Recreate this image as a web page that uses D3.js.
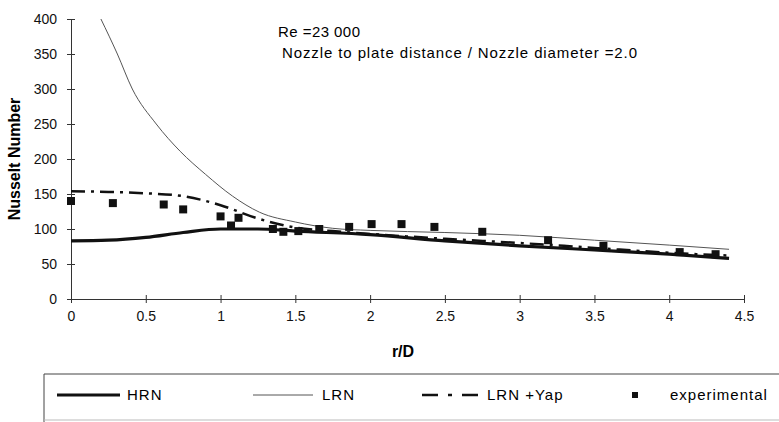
<!DOCTYPE html>
<html>
<head>
<meta charset="utf-8">
<script src="https://cdn.jsdelivr.net/npm/d3@7"></script>
<style>
  body { margin: 0; background: #fff; }
  svg { display: block; font-family: "Liberation Sans", Arial, sans-serif; }
  .tick text { font-size: 14px; fill: #111; }
</style>
</head>
<body>
<div id="chart"></div>
<script>
// values
const hrnX = [0, 0.25, 0.5, 0.75, 1.0, 1.25, 1.5, 2.0, 2.5, 3.0, 3.5, 4.0, 4.4];
const hrnY = [83, 84, 88, 95, 100, 100, 97, 92, 83, 76, 70, 64, 58];

const lrnX = [0.2, 0.31, 0.41, 0.57, 0.73, 0.9, 1.08, 1.26, 1.5, 1.75, 2.0, 2.5, 3.0, 3.5, 4.0, 4.4];
const lrnY = [400, 350, 300, 250, 211, 178, 147, 124, 110, 101, 98, 95, 91, 84, 77, 71];

const yapX = [0, 0.25, 0.5, 0.75, 1.0, 1.25, 1.5, 1.75, 2.0, 2.5, 3.0, 3.5, 4.0, 4.4];
const yapY = [154, 153, 151, 147, 134, 115, 102, 97, 93, 86, 80, 73, 66, 62];

const expX = [0, 0.28, 0.62, 0.75, 1.0, 1.07, 1.12, 1.35, 1.42, 1.52, 1.66, 1.86, 2.01, 2.21, 2.43, 2.75, 3.19, 3.56, 4.07, 4.31];
const expY = [140, 137, 135, 128, 118, 105, 116, 100, 96, 97, 100, 103, 107, 107, 103, 96, 84, 76, 67, 64];

const xTicks = [0, 0.5, 1, 1.5, 2, 2.5, 3, 3.5, 4, 4.5];
const yTicks = [0, 50, 100, 150, 200, 250, 300, 350, 400];

const legendLabels = ['HRN', 'LRN', 'LRN +Yap', 'experimental'];
const notes = ['Re =23 000', 'Nozzle to plate distance / Nozzle diameter =2.0'];

const W = 779, H = 422;
const margin = {left: 71, top: 19, right: 35, bottom: 123};

const svg = d3.select('#chart').append('svg')
    .attr('width', W)
    .attr('height', H);

const x = d3.scaleLinear().domain([0, 4.5]).range([margin.left, W - margin.right]);
const y = d3.scaleLinear().domain([0, 400]).range([H - margin.bottom, margin.top]);

svg.append('defs').append('clipPath').attr('id', 'plot')
    .append('rect')
    .attr('x', margin.left).attr('y', margin.top)
    .attr('width', x(4.5) - x(0)).attr('height', y(0) - y(400));

// axes with ticks crossing the line
const xAxis = svg.append('g')
    .attr('transform', `translate(0,${y(0)})`)
    .call(d3.axisBottom(x).tickValues(xTicks).tickSize(4).tickPadding(8).tickFormat(d3.format('')));
xAxis.selectAll('.tick line').attr('y1', -4);

const yAxis = svg.append('g')
    .attr('transform', `translate(${x(0)},0)`)
    .call(d3.axisLeft(y).tickValues(yTicks).tickSize(4).tickPadding(10));
yAxis.selectAll('.tick line').attr('x1', 4);

svg.selectAll('.domain').attr('stroke', '#333');
svg.selectAll('.tick line').attr('stroke', '#333');

svg.append('text')
    .attr('transform', `translate(20,${(y(0) + y(400)) / 2}) rotate(-90)`)
    .attr('text-anchor', 'middle')
    .attr('font-size', 16)
    .attr('font-weight', 'bold')
    .text('Nusselt Number');

svg.append('text')
    .attr('x', 403).attr('y', 357)
    .attr('text-anchor', 'middle')
    .attr('font-size', 16)
    .attr('font-weight', 'bold')
    .text('r/D');

// annotation
svg.append('text').attr('x', 278).attr('y', 37).attr('font-size', 15)
    .attr('textLength', 82).text(notes[0]);
svg.append('text').attr('x', 282).attr('y', 58).attr('font-size', 15)
    .attr('textLength', 355).text(notes[1]);

// series
const line = d3.line()
    .x(d => x(d[0]))
    .y(d => y(d[1]))
    .curve(d3.curveMonotoneX);

const plot = svg.append('g').attr('clip-path', 'url(#plot)');

plot.append('path')
    .datum(d3.zip(lrnX, lrnY))
    .attr('d', line)
    .attr('fill', 'none')
    .attr('stroke', '#555')
    .attr('stroke-width', 1);

plot.append('path')
    .datum(d3.zip(yapX, yapY))
    .attr('d', line)
    .attr('fill', 'none')
    .attr('stroke', '#111')
    .attr('stroke-width', 2.5)
    .attr('stroke-dasharray', '14,6,3,6');

plot.append('path')
    .datum(d3.zip(hrnX, hrnY))
    .attr('d', line)
    .attr('fill', 'none')
    .attr('stroke', '#111')
    .attr('stroke-width', 3.2);

svg.append('g')
    .selectAll('rect')
    .data(d3.zip(expX, expY))
    .enter().append('rect')
    .attr('x', d => x(d[0]) - 4)
    .attr('y', d => y(d[1]) - 4)
    .attr('width', 8)
    .attr('height', 8)
    .attr('fill', '#111');

// legend
const lg = svg.append('g');
lg.append('path')
    .attr('d', `M44,${H + 2} V374 H${W + 2}`)
    .attr('fill', 'none')
    .attr('stroke', '#444')
    .attr('stroke-width', 1);
lg.append('line').attr('x1', 44).attr('x2', W).attr('y1', 420).attr('y2', 420)
    .attr('stroke', '#bbb').attr('stroke-width', 1);

const ly = 395;
lg.append('line').attr('x1', 57).attr('x2', 120).attr('y1', ly).attr('y2', ly)
    .attr('stroke', '#111').attr('stroke-width', 3);
lg.append('line').attr('x1', 253).attr('x2', 313).attr('y1', ly).attr('y2', ly)
    .attr('stroke', '#555').attr('stroke-width', 1);
lg.append('line').attr('x1', 422).attr('x2', 478).attr('y1', ly).attr('y2', ly)
    .attr('stroke', '#111').attr('stroke-width', 2.5)
    .attr('stroke-dasharray', '16,10,4,10');
lg.append('rect').attr('x', 632).attr('y', ly - 3).attr('width', 6).attr('height', 6)
    .attr('fill', '#111');

const labelX = [127, 322, 487, 670];
lg.selectAll('text.leg')
    .data(legendLabels)
    .enter().append('text')
    .attr('class', 'leg')
    .attr('x', (d, i) => labelX[i])
    .attr('y', ly + 5)
    .attr('font-size', 15)
    .attr('letter-spacing', 1)
    .text(d => d);
</script>
</body>
</html>
